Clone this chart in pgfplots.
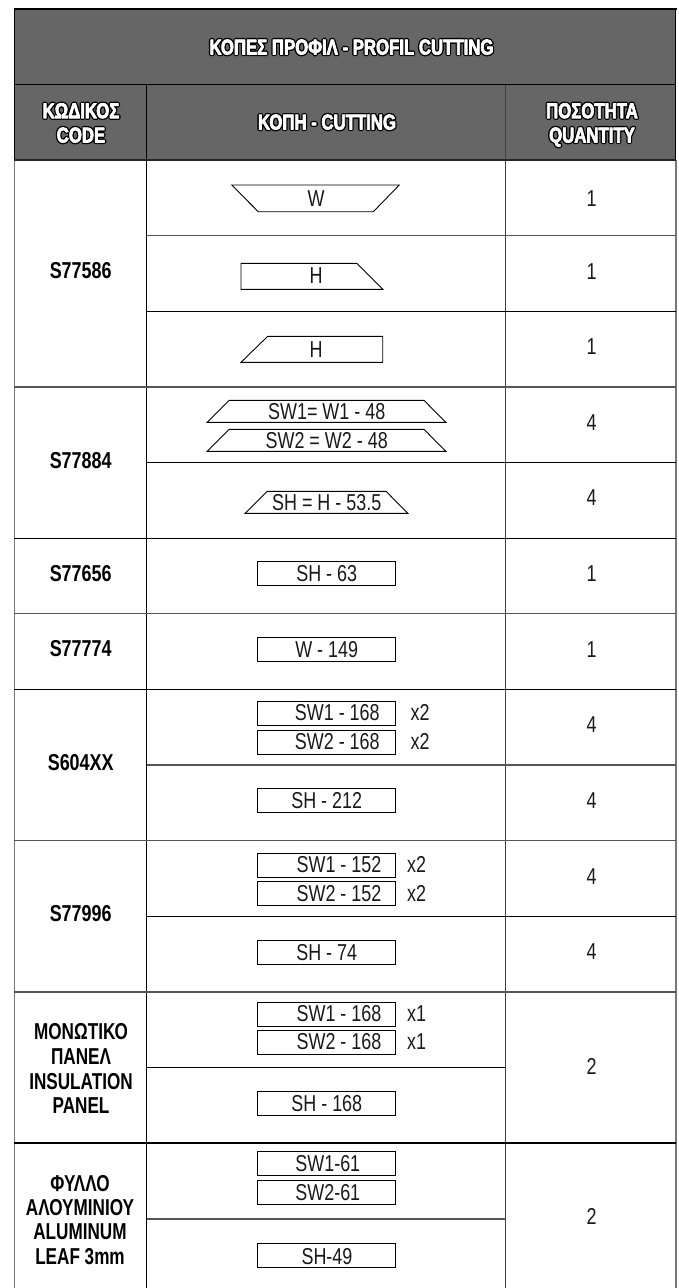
\documentclass[border=0pt]{standalone}
\usepackage{fontspec}
\setmainfont[FakeStretch=0.78]{Liberation Sans}
\newfontfamily\narrowb[FakeStretch=0.745]{Liberation Sans}
\usepackage{pgfplots}
\pgfplotsset{compat=1.18}
\definecolor{hdr}{HTML}{666666}
\definecolor{lg}{HTML}{555555}
\definecolor{bd}{HTML}{777777}
\tikzset{
  cutl/.style={black,line width=.9pt},
  thinb/.style={black,line width=1pt},
  thickg/.style={lg,line width=1.5pt},
  bordr/.style={bd,line width=1.6pt},
  tt/.style={font=\fontsize{23}{23}\selectfont,inner sep=0pt,anchor=base,yshift=-8pt,text=black!90},
  bt/.style={font=\fontsize{23}{23}\bfseries\selectfont,inner sep=0pt,anchor=base,yshift=-8pt,text=black},
  nb/.style={font=\narrowb\fontsize{23}{23}\bfseries\selectfont,inner sep=0pt,anchor=base,yshift=-8pt,text=black},
  ht/.style={font=\fontsize{21.5}{21.5}\bfseries\selectfont,inner sep=0pt,anchor=base,yshift=-7.5pt},
}
\newcommand\hd[3]{%
  \node[ht] at (axis cs:#1,#2) {\special{pdf:code q 2 Tr 3.4 w 1 j 0 0 0 RG 0 0 0 rg}#3\special{pdf:code Q}};
  \node[ht] at (axis cs:#1,#2) {\special{pdf:code q 2 Tr 0.7 w 1 j 1 1 1 RG 1 1 1 rg}#3\special{pdf:code Q}};
}
\begin{document}
\begin{tikzpicture}
\useasboundingbox (0,0) rectangle (678pt,1288pt);
\begin{axis}[at={(0,0)},anchor=south west,scale only axis,width=678pt,height=1288pt,
  xmin=0,xmax=678,ymin=0,ymax=1288,y dir=reverse,hide axis,clip=false,
  every axis plot/.append style={line cap=butt,line join=miter,no marks},
]
% header fill
\addplot[fill=hdr,draw=none] coordinates {(14.3,8) (675.7,8) (675.7,160) (14.3,160)} --cycle;
% outer borders
\addplot[bordr] coordinates {(14.3,160) (14.3,1288)};
\addplot[bordr] coordinates {(675.7,160) (675.7,1288)};
\addplot[black,line width=.8pt] coordinates {(14.3,8) (14.3,160)};
\addplot[black,line width=.8pt] coordinates {(675.7,8) (675.7,160)};
% column lines
\addplot[black,line width=1pt] coordinates {(146.6,84) (146.6,1288)};
\addplot[black!75,line width=1.2pt] coordinates {(505.7,84) (505.7,1288)};
% horizontal lines
\addplot[black,line width=2pt] coordinates {(13.5,8.5) (676.5,8.5)};
\addplot[thinb] coordinates {(14.3,84) (675.7,84)};
\addplot[black!85,line width=1.7pt] coordinates {(14.3,160) (675.7,160)};
\addplot[thickg] coordinates {(146.6,235.7) (675.7,235.7)};
\addplot[thinb] coordinates {(146.6,311.3) (675.7,311.3)};
\addplot[thickg] coordinates {(14.3,386.8) (675.7,386.8)};
\addplot[thinb] coordinates {(146.6,462.7) (675.7,462.7)};
\addplot[thinb] coordinates {(14.3,538) (675.7,538)};
\addplot[thickg] coordinates {(14.3,613.6) (675.7,613.6)};
\addplot[thinb] coordinates {(14.3,689.2) (675.7,689.2)};
\addplot[thickg] coordinates {(146.6,765) (675.7,765)};
\addplot[thickg] coordinates {(14.3,840.7) (675.7,840.7)};
\addplot[thinb] coordinates {(146.6,916) (675.7,916)};
\addplot[thickg] coordinates {(14.3,992) (675.7,992)};
\addplot[thinb] coordinates {(146.6,1067.5) (505.7,1067.5)};
\addplot[black,line width=1.3pt] coordinates {(14.3,1143) (675.7,1143)};
\addplot[thickg] coordinates {(146.6,1219) (505.7,1219)};
% cut shapes
\addplot[cutl] coordinates {(231.7,185) (399.3,185) (373.3,211.7) (258.3,211.7)} --cycle;
\addplot[cutl] coordinates {(241,263.3) (356.7,263.3) (382.7,289.3) (241,289.3)} --cycle;
\addplot[cutl] coordinates {(267.7,336.3) (382.7,336.3) (382.7,362.3) (241,362.3)} --cycle;
\addplot[cutl] coordinates {(229.3,400.3) (424,400.3) (445.7,422.3) (207.3,422.3)} --cycle;
\addplot[cutl] coordinates {(229.3,429.3) (424,429.3) (445.7,451.3) (207.3,451.3)} --cycle;
\addplot[cutl] coordinates {(267.3,491.3) (386,491.3) (407.7,513.3) (245.3,513.3)} --cycle;
\addplot[cutl] coordinates {(257.3,561.3) (395.7,561.3) (395.7,585.3) (257.3,585.3)} --cycle;
\addplot[cutl] coordinates {(257.3,637.3) (395.7,637.3) (395.7,661.3) (257.3,661.3)} --cycle;
\addplot[cutl] coordinates {(257.3,701.3) (395.7,701.3) (395.7,725.3) (257.3,725.3)} --cycle;
\addplot[cutl] coordinates {(257.3,730.3) (395.7,730.3) (395.7,754.3) (257.3,754.3)} --cycle;
\addplot[cutl] coordinates {(257.3,788.3) (395.7,788.3) (395.7,812.3) (257.3,812.3)} --cycle;
\addplot[cutl] coordinates {(257.3,853) (395.7,853) (395.7,877) (257.3,877)} --cycle;
\addplot[cutl] coordinates {(257.3,881.7) (395.7,881.7) (395.7,905.7) (257.3,905.7)} --cycle;
\addplot[cutl] coordinates {(257.3,940) (395.7,940) (395.7,964) (257.3,964)} --cycle;
\addplot[cutl] coordinates {(257.3,1002.3) (395.7,1002.3) (395.7,1026.3) (257.3,1026.3)} --cycle;
\addplot[cutl] coordinates {(257.3,1030) (395.7,1030) (395.7,1054) (257.3,1054)} --cycle;
\addplot[cutl] coordinates {(257.3,1091.3) (395.7,1091.3) (395.7,1115.3) (257.3,1115.3)} --cycle;
\addplot[cutl] coordinates {(257.3,1151) (395.7,1151) (395.7,1175) (257.3,1175)} --cycle;
\addplot[cutl] coordinates {(257.3,1180.7) (395.7,1180.7) (395.7,1204.7) (257.3,1204.7)} --cycle;
\addplot[cutl] coordinates {(257.3,1243.7) (395.7,1243.7) (395.7,1267.7) (257.3,1267.7)} --cycle;
% header text
\hd{351.5}{47}{ΚΟΠΕΣ ΠΡΟΦΙΛ - PROFIL CUTTING}
\hd{81}{110.7}{ΚΩΔΙΚΟΣ}
\hd{81}{135}{CODE}
\hd{327}{122}{ΚΟΠΗ - CUTTING}
\hd{592}{110.7}{ΠΟΣΟΤΗΤΑ}
\hd{592}{135}{QUANTITY}
% left column
\node[bt] at (axis cs:80.7,270.7) {S77586};
\node[bt] at (axis cs:80.7,460) {S77884};
\node[bt] at (axis cs:80.7,573.3) {S77656};
\node[bt] at (axis cs:80.7,648.5) {S77774};
\node[bt] at (axis cs:80.7,762.7) {S604XX};
\node[bt] at (axis cs:80.7,913.3) {S77996};
\node[nb] at (axis cs:81,1031.7) {ΜΟΝΩΤΙΚΟ};
\node[nb] at (axis cs:81,1056.7) {ΠΑΝΕΛ};
\node[nb] at (axis cs:81,1081.7) {INSULATION};
\node[nb] at (axis cs:81,1105.7) {PANEL};
\node[nb] at (axis cs:80,1183.3) {ΦΥΛΛΟ};
\node[nb] at (axis cs:80,1207.3) {ΑΛΟΥΜΙΝΙΟΥ};
\node[nb] at (axis cs:80,1231.7) {ALUMINUM};
\node[nb] at (axis cs:80,1256.7) {LEAF 3mm};
% cutting text
\node[tt] at (axis cs:316,198.3) {W};
\node[tt] at (axis cs:316,275.7) {H};
\node[tt] at (axis cs:316,349.3) {H};
\node[tt] at (axis cs:326.7,411.3) {SW1= W1 - 48};
\node[tt] at (axis cs:326.7,440.3) {SW2 = W2 - 48};
\node[tt] at (axis cs:326.7,502.3) {SH = H - 53.5};
\node[tt] at (axis cs:326.7,573.3) {SH - 63};
\node[tt] at (axis cs:326.7,649.3) {W - 149};
\node[tt] at (axis cs:337.3,712.7) {SW1 - 168};
\node[tt] at (axis cs:337.3,741.7) {SW2 - 168};
\node[tt] at (axis cs:420,712.7) {x2};
\node[tt] at (axis cs:420,741.7) {x2};
\node[tt] at (axis cs:326.7,800.3) {SH - 212};
\node[tt] at (axis cs:339,864.3) {SW1 - 152};
\node[tt] at (axis cs:339,893.3) {SW2 - 152};
\node[tt] at (axis cs:416.7,864.3) {x2};
\node[tt] at (axis cs:416.7,893.3) {x2};
\node[tt] at (axis cs:326.7,952.3) {SH - 74};
\node[tt] at (axis cs:339,1013.3) {SW1 - 168};
\node[tt] at (axis cs:339,1041.7) {SW2 - 168};
\node[tt] at (axis cs:416.5,1013.3) {x1};
\node[tt] at (axis cs:416.5,1041.7) {x1};
\node[tt] at (axis cs:326.8,1103.3) {SH - 168};
\node[tt] at (axis cs:327.8,1163.3) {SW1-61};
\node[tt] at (axis cs:327.8,1192.3) {SW2-61};
\node[tt] at (axis cs:327,1256) {SH-49};
% quantity
\node[tt] at (axis cs:591.7,198.3) {1};
\node[tt] at (axis cs:591.7,271.7) {1};
\node[tt] at (axis cs:591.7,346) {1};
\node[tt] at (axis cs:591.7,422.3) {4};
\node[tt] at (axis cs:591.7,497.3) {4};
\node[tt] at (axis cs:591.7,573.3) {1};
\node[tt] at (axis cs:591.7,649.3) {1};
\node[tt] at (axis cs:591.7,724.3) {4};
\node[tt] at (axis cs:591.7,800) {4};
\node[tt] at (axis cs:591.7,876) {4};
\node[tt] at (axis cs:591.7,951.3) {4};
\node[tt] at (axis cs:591.7,1066) {2};
\node[tt] at (axis cs:591.7,1216) {2};
\end{axis}
\end{tikzpicture}
\end{document}
